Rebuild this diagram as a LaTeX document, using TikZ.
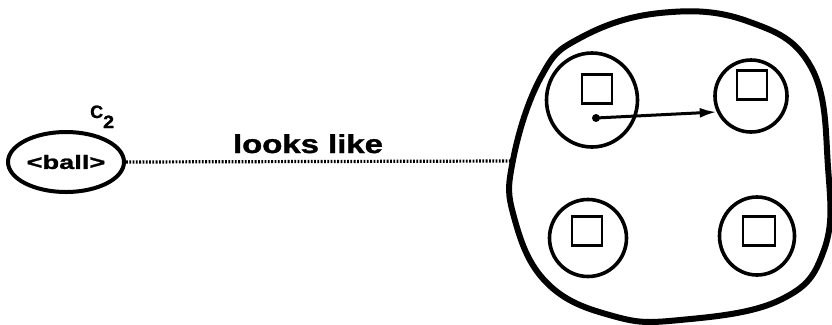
\documentclass[tikz,border=0pt]{standalone}
\usepackage{fontspec}
\setmainfont{Liberation Sans}
\newfontfamily\heavyfont{Liberation Sans Bold}[FakeBold=1.2]
\usepackage{graphicx}
\usetikzlibrary{arrows.meta,shapes.geometric}

\begin{document}
\begin{tikzpicture}[x=1bp,y=-1bp,
  lbl/.style={font=\heavyfont\fontsize{26}{28}\selectfont,inner sep=0pt},
  cell/.style={draw,ellipse,line width=3.6bp,inner sep=0pt},
  sq/.style={draw,line width=2.4bp,minimum width=30bp,minimum height=29bp,inner sep=0pt},
  dots/.style={line width=3.2bp,dash pattern=on 1.8bp off 1.5bp},
  arr/.style={-{Latex[length=17bp,width=10bp]},line width=3bp}]
\useasboundingbox (0,0) rectangle (832,324);
% left concept
\node[draw,ellipse,line width=4bp,minimum width=116bp,minimum height=60bp,inner sep=0pt,
  font=\heavyfont\fontsize{19.5}{22}\selectfont] (ball) at (66,162) {\scalebox{1.4}[1]{<ball>}};
\node[font=\heavyfont\fontsize{18}{20}\selectfont,inner sep=0pt,anchor=base west] (ctwo) at (90,118)
  {C\raisebox{-10bp}{\scalebox{1.1}[1]{2}}};
% the big blob
\draw[line width=6bp] plot[smooth cycle,tension=0.7] coordinates {(660,13) (747,21) (811,67)
  (828,167) (824,250) (780,300) (680,320) (613,316) (547,283) (514,217) (513,160) (541,77) (580,38)};
\coordinate (blobw) at (512,161);
\draw[dots] (ball.east) -- (blobw);
\node[lbl,anchor=base] (looks) at (308,153) {\scalebox{1.27}[1]{looks like}};
% cells with their squares
\node[cell,minimum width=91bp,minimum height=94bp] (tl) at (592,100) {};
\node[cell,minimum width=72bp,minimum height=72bp] (tr) at (751,96) {};
\node[cell,minimum width=77bp,minimum height=77bp] (bl) at (588,238) {};
\node[cell,minimum width=75bp,minimum height=78bp] (br) at (757,236) {};
\node[sq] (tlsq) at (597,89) {};
\node[sq] (trsq) at (752,85) {};
\node[sq] (blsq) at (587,231) {};
\node[sq,minimum width=32bp] (brsq) at (759,231) {};
\coordinate (dot) at (596,118);
\fill (dot) circle (4bp);
\draw[arr] (dot) -- (tr.205);
\end{tikzpicture}
\end{document}
